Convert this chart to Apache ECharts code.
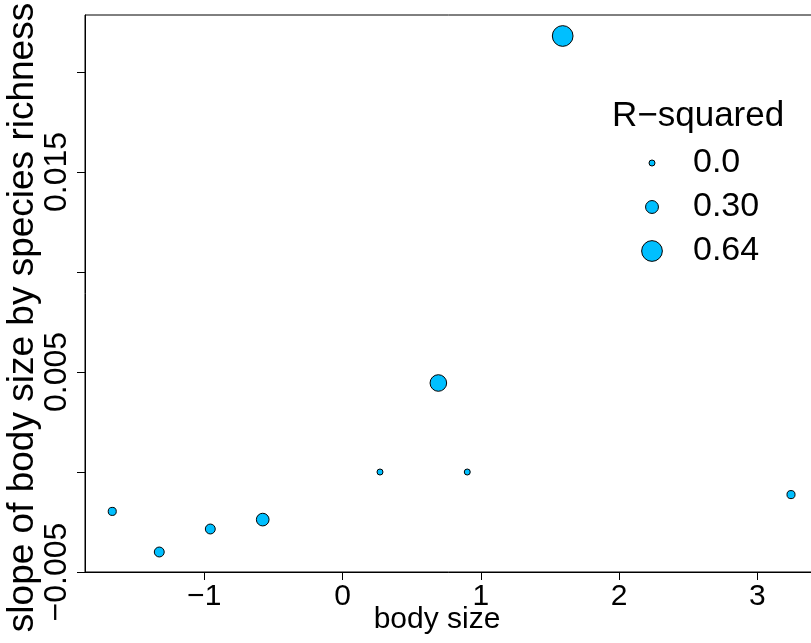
<!DOCTYPE html>
<html>
<head>
<meta charset="utf-8">
<script src="https://cdn.jsdelivr.net/npm/echarts@6/dist/echarts.min.js"></script>
<style>
  html, body { margin: 0; padding: 0; background: #fff; }
  #chart { width: 811px; height: 643px; }
</style>
</head>
<body>
<div id="chart"></div>
<script>
// Body size (x), slope of body size by species richness (y), and R-squared of each fit
const bodySize = [-1.665, -1.325, -0.956, -0.577, 0.271, 0.693, 0.902, 1.592, 3.243];
const slopeValues = [-0.00197, -0.0040, -0.00285, -0.00238, 0.0, 0.00445, 0.0, 0.0218, -0.00113];
const rSquared = [0.09, 0.17, 0.17, 0.29, 0.0, 0.46, 0.0, 0.64, 0.09];

// Axis ticks and labels
const xTicks = [-1, 0, 1, 2, 3];
const yTicks = [-0.005, 0, 0.005, 0.01, 0.015, 0.02];
const yLabels = [-0.005, 0.005, 0.015];

// Legend entries for point size
const legendValues = [0.0, 0.30, 0.64];
const legendLabels = ['0.0', '0.30', '0.64'];

const FONT = 'Liberation Sans';
const FILL = '#00BFFF';

// point diameter grows linearly with R-squared
function pointSize(r) { return 6 + 23 * r; }
function minus(s) { return String(s).replace('-', '\u2212'); }

const points = bodySize.map((x, i) => [x, slopeValues[i], rSquared[i]]);

const legendGraphics = [{
  type: 'text',
  left: 612, top: 99,
  style: { text: 'R\u2212squared', fontFamily: FONT, fontSize: 35, fill: '#000' }
}];
legendValues.forEach((v, i) => {
  const cy = 163 + i * 44;
  legendGraphics.push({
    type: 'circle',
    shape: { cx: 652, cy: cy, r: pointSize(v) / 2 },
    style: { fill: FILL, stroke: '#000', lineWidth: 1 }
  });
  legendGraphics.push({
    type: 'text',
    x: 693, y: cy,
    style: { text: legendLabels[i], fontFamily: FONT, fontSize: 34, fill: '#000',
             align: 'left', verticalAlign: 'middle' }
  });
});

const chart = echarts.init(document.getElementById('chart'), null, { renderer: 'canvas' });
chart.setOption({
  animation: false,
  backgroundColor: '#fff',
  grid: {
    left: 85, top: 15, right: -2, bottom: 71,
    containLabel: false,
    outerBoundsMode: 'none',
    show: true, borderColor: '#000', borderWidth: 1, backgroundColor: 'transparent'
  },
  xAxis: {
    type: 'value',
    min: -1.862, max: 3.402,
    name: 'body size',
    nameLocation: 'middle',
    nameGap: 33,
    nameMoveOverlap: false,
    nameTextStyle: { fontFamily: FONT, fontSize: 30, color: '#000', padding: [0, 24, 0, 0] },
    axisLine: { show: true, onZero: false, lineStyle: { color: '#000', width: 1 } },
    axisTick: { show: true, length: 8, customValues: xTicks, lineStyle: { color: '#000' } },
    axisLabel: { show: true, customValues: xTicks, margin: 10,
                 fontFamily: FONT, fontSize: 30, color: '#000',
                 formatter: v => minus(v) },
    splitLine: { show: false }
  },
  yAxis: {
    type: 'value',
    min: -0.005, max: 0.02285,
    name: 'slope of body size by species richness',
    nameLocation: 'middle',
    nameRotate: 90,
    nameGap: 44,
    nameMoveOverlap: false,
    nameTextStyle: { fontFamily: FONT, fontSize: 37, color: '#000', padding: [0, 48, 0, 0] },
    axisLine: { show: true, onZero: false, lineStyle: { color: '#000', width: 1 } },
    axisTick: { show: true, length: 8, customValues: yTicks, lineStyle: { color: '#000' } },
    axisLabel: { show: true, customValues: yLabels, rotate: 90, margin: 12,
                 fontFamily: FONT, fontSize: 32, color: '#000',
                 formatter: v => minus(v.toFixed(3)) },
    splitLine: { show: false }
  },
  series: [{
    type: 'scatter',
    data: points,
    symbol: 'circle',
    symbolSize: d => pointSize(d[2]),
    itemStyle: { color: FILL, borderColor: '#000', borderWidth: 1, opacity: 1 },
    clip: false
  }],
  graphic: legendGraphics
});
</script>
</body>
</html>
